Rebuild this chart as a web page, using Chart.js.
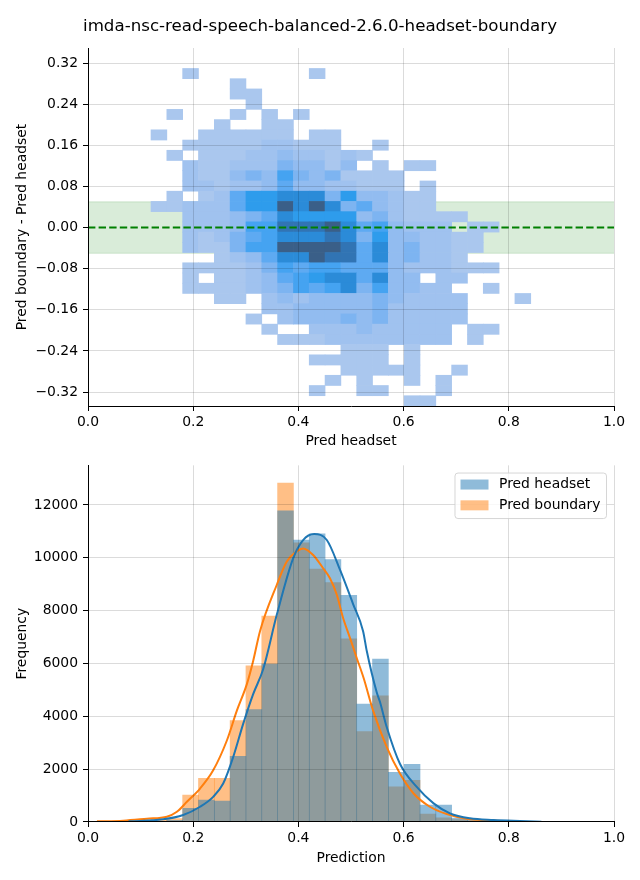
<!DOCTYPE html>
<html><head><meta charset="utf-8">
<script src="https://cdn.jsdelivr.net/npm/chart.js@4.4.1/dist/chart.umd.min.js"></script>
<style>
html,body{margin:0;padding:0;background:#fff;}
#wrap{position:relative;width:640px;height:880px;overflow:hidden;background:#fff;}
canvas{position:absolute;left:0;}
#c1{top:0;width:640px;height:452px;}
#c2{top:452px;width:640px;height:428px;}
</style></head>
<body><div id="wrap"><canvas id="c1" width="640" height="452"></canvas><canvas id="c2" width="640" height="428"></canvas></div>
<script>
// ---------- data ----------
const chartTitle = 'imda-nsc-read-speech-balanced-2.6.0-headset-boundary';

// 2D histogram (Pred headset vs Pred boundary - Pred headset)
const heatXStart = 0.1198;   // left edge of first column bin
const heatXWidth = 0.03008;  // column bin width
const heatYTop = 0.3494;     // top edge of first row bin
const heatYHeight = 0.0199;  // row bin height
// rows from top to bottom, 24 columns each (relative counts)
const heatCounts = [
 [0,0,0,0,0,0,0,0,0,0,0,0,0,0,0,0,0,0,0,0,0,0,0,0],
 [0,0,0,0,0,0,0,0,0,0,0,0,0,0,0,0,0,0,0,0,0,0,0,0],
 [0,0,1,0,0,0,0,0,0,0,1,0,0,0,0,0,0,0,0,0,0,0,0,0],
 [0,0,0,0,0,1,0,0,0,0,0,0,0,0,0,0,0,0,0,0,0,0,0,0],
 [0,0,0,0,0,1,1,0,0,0,0,0,0,0,0,0,0,0,0,0,0,0,0,0],
 [0,0,0,0,0,0,1,0,0,0,0,0,0,0,0,0,0,0,0,0,0,0,0,0],
 [0,1,0,0,0,1,0,1,0,1,0,0,0,0,0,0,0,0,0,0,0,0,0,0],
 [0,0,0,0,1,0,0,1,1,0,0,0,0,0,0,0,0,0,0,0,0,0,0,0],
 [1,0,0,1,1,1,1,1,1,0,1,1,0,0,0,0,0,0,0,0,0,0,0,0],
 [0,0,1,1,1,1,1,2,2,1,1,1,0,0,1,0,0,0,0,0,0,0,0,0],
 [0,1,0,1,1,1,2,2,3,2,2,1,2,1,0,0,0,0,0,0,0,0,0,0],
 [0,0,2,1,1,2,2,2,4,3,3,1,3,0,1,0,1,1,0,0,0,0,0,0],
 [0,0,2,1,1,3,4,3,6,4,3,4,1,1,1,1,0,0,0,0,0,0,0,0],
 [0,0,2,2,1,2,2,3,5,3,3,2,2,1,1,1,0,1,0,0,0,0,0,0],
 [0,1,0,1,2,5,7,7,8,8,8,4,7,3,3,2,1,1,0,0,0,0,0,0],
 [1,1,2,2,2,5,7,7,10,8,10,8,4,5,3,2,1,1,0,0,0,0,0,0],
 [0,0,2,2,2,3,4,5,8,7,7,7,7,3,4,2,1,1,1,1,0,0,0,0],
 [0,0,2,2,2,3,6,6,9,9,9,10,8,5,6,3,2,2,2,0,1,1,0,0],
 [0,0,2,1,2,4,5,6,8,8,8,9,8,4,7,3,3,2,2,1,1,0,0,0],
 [0,0,2,1,1,4,6,6,10,10,10,10,9,5,8,3,4,2,2,1,1,0,0,0],
 [0,0,0,0,1,2,3,5,8,8,10,9,9,5,8,3,4,2,2,1,0,0,0,0],
 [0,0,1,1,1,1,2,4,6,5,6,6,5,5,5,3,2,2,2,1,1,1,0,0],
 [0,0,1,0,1,1,2,3,5,6,7,8,8,5,8,3,3,0,2,2,0,0,0,0],
 [0,0,1,1,1,1,2,3,4,6,5,6,8,4,6,3,3,2,2,0,0,1,0,0],
 [0,0,0,0,1,1,0,2,3,2,3,3,3,3,4,3,2,2,2,2,0,0,0,1],
 [0,0,0,0,0,0,0,2,2,3,3,3,3,3,4,2,2,2,2,2,0,0,0,0],
 [0,0,0,0,0,0,1,0,2,3,3,3,4,3,4,2,2,2,2,2,0,0,0,0],
 [0,0,0,0,0,0,0,1,0,0,2,2,2,3,2,2,2,2,2,0,1,1,0,0],
 [0,0,0,0,0,0,0,0,1,1,1,2,2,2,2,2,2,2,2,0,1,0,0,0],
 [0,0,0,0,0,0,0,0,0,0,0,0,1,1,1,0,1,0,0,0,0,0,0,0],
 [0,0,0,0,0,0,0,0,0,0,1,1,1,1,1,0,1,0,0,0,0,0,0,0],
 [0,0,0,0,0,0,0,0,0,0,0,0,1,1,1,1,1,0,0,1,0,0,0,0],
 [0,0,0,0,0,0,0,0,0,0,0,1,0,1,0,0,1,0,1,0,0,0,0,0],
 [0,0,0,0,0,0,0,0,0,0,1,0,0,1,1,0,0,0,1,0,0,0,0,0],
 [0,0,0,0,0,0,0,0,0,0,0,0,0,0,0,0,1,1,0,0,0,0,0,0]
];
const bandHalfWidth = 0.05;
const refLineValue = 0;
const topXTicks = [0, 0.2, 0.4, 0.6, 0.8, 1.0];
const topYTicks = [-0.32, -0.24, -0.16, -0.08, 0, 0.08, 0.16, 0.24, 0.32];

// 1D histograms
const histBinStart = -0.0005;
const histBinWidth = 0.03008;
const histHeadset  = [0,0,5,10,25,60,515,828,790,2483,4251,5980,11776,10673,10910,9932,8578,4464,6170,1881,2182,640,640,150,80,50,30,15];
const histBoundary = [15,25,35,55,90,130,1016,1655,1655,3837,5907,7790,12829,10570,9570,9067,6935,3424,4778,1329,1580,300,160,90,45,25,10,5];

// KDE curves
const kdeHeadsetX = [0.077,0.143,0.181,0.213,0.238,0.257,0.276,0.295,0.314,0.333,0.359,0.390,0.409,0.430,0.454,0.479,0.504,0.523,0.530,0.549,0.555,0.568,0.593,0.625,0.657,0.688,0.726,0.771,0.821,0.862];
const kdeHeadsetY = [25,100,263,577,953,1455,2457,3713,4840,5780,7851,9981,10673,10899,10673,9550,8250,7224,6471,4900,4550,3586,2207,1329,704,327,139,75,38,13];
const kdeBoundaryX = [0.017,0.067,0.112,0.150,0.169,0.188,0.213,0.238,0.264,0.283,0.302,0.314,0.327,0.359,0.378,0.397,0.409,0.428,0.447,0.460,0.473,0.485,0.498,0.511,0.524,0.542,0.568,0.593,0.619,0.650,0.682,0.720,0.758,0.796,0.820];
const kdeBoundaryY = [25,50,125,200,388,764,1267,1956,3085,4214,5218,6095,7224,8980,9857,10250,10357,10108,9605,9229,8603,7724,6971,6200,5450,4214,2833,1832,1080,577,301,125,63,25,10];
const bottomXTicks = [0, 0.2, 0.4, 0.6, 0.8, 1.0];
const bottomYTicks = [0, 2000, 4000, 6000, 8000, 10000, 12000];

// ---------- styles ----------
const FAM = "'DejaVu Sans', 'Liberation Sans', sans-serif";
const FONT = {family: FAM, size: 13.9, weight: 'normal'};
const GRID = 'rgba(0,0,0,0.14)';
const heatPalette = [null,'#aac7ee','#a0c2ef','#92bcf0','#7db4f1','#5eaaf2','#45a3f1','#2e9cec','#2b8bd8','#3174b4','#3a5f88'];
Chart.defaults.font.family = FAM;
Chart.defaults.color = '#000';

const fmt1 = v => Number(v).toFixed(1);
const fmt2 = v => { const s = Number(v).toFixed(2); return (Math.abs(v) < 1e-9 ? '0.00' : s).replace('-', '\u2212'); };

// ---------- top chart ----------
const heatPoints = [];
heatCounts.forEach((row, r) => row.forEach((c, k) => {
  if (c > 0) {
    const x0 = heatXStart + k * heatXWidth;
    const yT = heatYTop - r * heatYHeight;
    heatPoints.push({x: x0 + heatXWidth / 2, y: [yT - heatYHeight, yT], c: c});
  }
}));

function xAxis(ticksArr, height, title, titleBottom) {
  return {
    type: 'linear', min: 0, max: 1, offset: false,
    afterBuildTicks: s => { s.ticks = ticksArr.map(v => ({value: v})); },
    afterFit: s => { s.height = height; },
    ticks: {font: FONT, color: '#000', padding: 3, maxRotation: 0, autoSkip: false, callback: v => fmt1(v)},
    grid: {color: GRID, lineWidth: 1, z: 1, offset: false, drawTicks: true, tickLength: 5, tickColor: '#000', tickWidth: 1},
    border: {color: '#000', width: 1, z: 2},
    title: {display: true, text: title, font: FONT, color: '#000', padding: {top: 0, bottom: titleBottom}}
  };
}
function yAxis(min, max, ticksArr, width, fmt, title, titleTop, gridColor) {
  return {
    type: 'linear', min: min, max: max,
    afterBuildTicks: s => { s.ticks = ticksArr.map(v => ({value: v})); },
    afterFit: s => { s.width = width; },
    ticks: {font: FONT, color: '#000', padding: 5, autoSkip: false, callback: v => fmt(v)},
    grid: {color: gridColor, lineWidth: 1, z: 1, tickLength: 5, tickColor: '#000', tickWidth: 1},
    border: {color: '#000', width: 1, z: 2},
    title: {display: true, text: title, font: FONT, color: '#000', padding: {top: titleTop, bottom: 0}}
  };
}

new Chart(document.getElementById('c1'), {
  type: 'bar',
  data: {datasets: [
    {type: 'line', data: [{x: 0, y: bandHalfWidth}, {x: 1, y: bandHalfWidth}], borderColor: 'rgba(0,128,0,0.15)', borderWidth: 1, pointRadius: 0, fill: false, order: 3},
    {type: 'line', data: [{x: 0, y: -bandHalfWidth}, {x: 1, y: -bandHalfWidth}], borderColor: 'rgba(0,128,0,0.15)', borderWidth: 1, pointRadius: 0, fill: '-1', backgroundColor: 'rgba(0,128,0,0.15)', order: 3},
    {type: 'bar', data: heatPoints, backgroundColor: ctx => (ctx.raw ? heatPalette[ctx.raw.c] : heatPalette[1]), borderWidth: 0, grouped: false, barPercentage: 1, categoryPercentage: 1, order: 2},
    {type: 'line', data: [{x: 0, y: refLineValue}, {x: 1, y: refLineValue}], borderColor: '#008000', borderWidth: 2, borderDash: [7.4, 3.2], pointRadius: 0, fill: false, order: 1}
  ]},
  options: {
    responsive: false, animation: false, devicePixelRatio: 1, events: [],
    layout: {padding: {left: 26, right: 26, top: 0, bottom: 0}},
    plugins: {
      legend: {display: false}, tooltip: {enabled: false},
      title: {display: true, text: chartTitle, font: {family: FAM, size: 16.67, weight: 'normal'}, color: '#000', padding: {top: 17, bottom: 11}}
    },
    scales: {
      x: xAxis(topXTicks, 46, 'Pred headset', 2.7),
      y: yAxis(-0.3472, 0.3494, topYTicks, 62, fmt2, 'Pred boundary - Pred headset', -12.3,
               ctx => (ctx.tick && Math.abs(ctx.tick.value) < 1e-9) ? 'rgba(0,0,0,0)' : GRID)
    }
  }
});

// ---------- bottom chart ----------
const toBars = arr => arr.map((v, i) => ({x: histBinStart + (i + 0.5) * histBinWidth, y: v}));
const toXY = (xs, ys) => xs.map((x, i) => ({x: x, y: ys[i]}));

const boxLegend = {
  id: 'boxLegend',
  afterDraw(chart) {
    const {ctx, chartArea} = chart;
    const items = chart.data.datasets.filter(d => d.legendPatch);
    ctx.save();
    ctx.font = "13.9px " + FAM;
    const tw = Math.max(...items.map(d => ctx.measureText(d.label).width));
    const w = 44 + tw + 6, h = 45.5;
    const right = chartArea.right - 7.5, top = chartArea.top + 7.7;
    const left = right - w;
    const r = 3;
    ctx.beginPath();
    ctx.moveTo(left + r, top);
    ctx.lineTo(left + w - r, top); ctx.quadraticCurveTo(left + w, top, left + w, top + r);
    ctx.lineTo(left + w, top + h - r); ctx.quadraticCurveTo(left + w, top + h, left + w - r, top + h);
    ctx.lineTo(left + r, top + h); ctx.quadraticCurveTo(left, top + h, left, top + h - r);
    ctx.lineTo(left, top + r); ctx.quadraticCurveTo(left, top, left + r, top);
    ctx.closePath();
    ctx.fillStyle = 'rgba(255,255,255,0.8)'; ctx.fill();
    ctx.strokeStyle = 'rgba(204,204,204,0.8)'; ctx.lineWidth = 1; ctx.stroke();
    items.forEach((d, i) => {
      const cy = top + 11.5 + i * 20.8;
      ctx.fillStyle = d.legendPatch;
      ctx.fillRect(left + 5.5, cy - 5, 28, 10);
      ctx.fillStyle = '#000'; ctx.textBaseline = 'middle'; ctx.textAlign = 'left';
      ctx.fillText(d.label, left + 44, cy);
    });
    ctx.restore();
  }
};

new Chart(document.getElementById('c2'), {
  type: 'bar',
  data: {datasets: [
    {type: 'bar', label: 'Pred headset', data: toBars(histHeadset), backgroundColor: 'rgba(31,119,180,0.5)', legendPatch: 'rgba(31,119,180,0.5)', borderWidth: 0, grouped: false, barPercentage: 1, categoryPercentage: 1, order: 2},
    {type: 'bar', label: 'Pred boundary', data: toBars(histBoundary), backgroundColor: 'rgba(255,127,14,0.5)', legendPatch: 'rgba(255,127,14,0.5)', borderWidth: 0, grouped: false, barPercentage: 1, categoryPercentage: 1, order: 3},
    {type: 'line', label: 'KDE headset', data: toXY(kdeHeadsetX, kdeHeadsetY), borderColor: '#1f77b4', borderWidth: 2, pointRadius: 0, fill: false, cubicInterpolationMode: 'monotone', order: 0},
    {type: 'line', label: 'KDE boundary', data: toXY(kdeBoundaryX, kdeBoundaryY), borderColor: '#ff7f0e', borderWidth: 2, pointRadius: 0, fill: false, cubicInterpolationMode: 'monotone', order: 1}
  ]},
  options: {
    responsive: false, animation: false, devicePixelRatio: 1, events: [],
    layout: {padding: {left: 0, right: 26, top: 12, bottom: 0}},
    plugins: {legend: {display: false}, tooltip: {enabled: false}},
    scales: {
      x: xAxis(bottomXTicks, 58, 'Prediction', 13.7),
      y: yAxis(0, 13500, bottomYTicks, 88, v => String(Math.round(v)), 'Frequency', 13.7, GRID)
    }
  },
  plugins: [boxLegend]
});
</script>
</body></html>
